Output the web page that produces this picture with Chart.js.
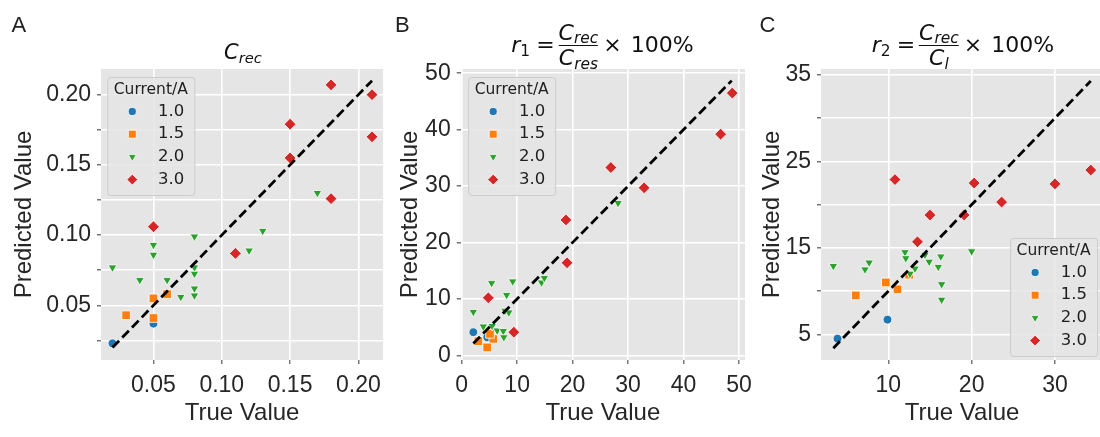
<!DOCTYPE html>
<html>
<head>
<meta charset="utf-8">
<title>Predicted vs True Value</title>
<script src="https://cdn.jsdelivr.net/npm/chart.js@4.4.1/dist/chart.umd.min.js"></script>
<style>
  html, body { margin:0; padding:0; background:#ffffff; }
  body { width:1100px; height:437px; overflow:hidden; position:relative; }
  canvas { position:absolute; top:0; }
  #cA { left:0; } #cB { left:390px; } #cC { left:750px; }
  .letter { position:absolute; top:13.5px; font-family:"Liberation Sans", Arial, sans-serif; font-size:22px; line-height:1; color:#222; }
  .ttl { position:absolute; transform:translateX(-50%); font-family:"DejaVu Sans", sans-serif; font-size:21px; line-height:1; color:#111; white-space:nowrap; }
  .big { font-size:22px; }
  .row { display:flex; align-items:center; }
  .it { font-style:italic; }
  .sb { font-size:14.7px; position:relative; top:3.5px; }
  .big .sb { font-size:15.4px; top:3.7px; }
  .frac { display:flex; flex-direction:column; align-items:center; }
  .bar { align-self:stretch; height:1.3px; background:#111; margin:1.3px 0; }
</style>
</head>
<body>
<canvas id="cA" width="390" height="437"></canvas>
<canvas id="cB" width="370" height="437"></canvas>
<canvas id="cC" width="360" height="437"></canvas>

<div class="letter" style="left:11.5px">A</div>
<div class="letter" style="left:395px">B</div>
<div class="letter" style="left:759.5px">C</div>

<div class="ttl" style="left:243px; top:42.2px"><span class="it">C</span><span class="it sb">rec</span></div>

<div class="ttl big row" style="left:602.5px; top:21.5px">
  <span><span class="it">r</span><span class="sb">1</span></span>
  <span style="margin:0 4px 0 6px">=</span>
  <span class="frac"><span><span class="it">C</span><span class="it sb">rec</span></span><span class="bar"></span><span><span class="it">C</span><span class="it sb">res</span></span></span>
  <span style="margin-left:5px">×&#8202; 100%</span>
</div>

<div class="ttl big row" style="left:963px; top:21.5px">
  <span><span class="it">r</span><span class="sb">2</span></span>
  <span style="margin:0 4px 0 6px">=</span>
  <span class="frac"><span><span class="it">C</span><span class="it sb">rec</span></span><span class="bar"></span><span><span class="it">C</span><span class="it sb">l</span></span></span>
  <span style="margin-left:5px">×&#8202; 100%</span>
</div>

<script>
// ---------------- DATA ----------------
const currents = ['1.0', '1.5', '2.0', '3.0'];
const legendTitle = 'Current/A';
const xAxisTitle = 'True Value';
const yAxisTitle = 'Predicted Value';

// Panel A: C_rec
const aTrue10 = [0.02, 0.05];
const aPred10 = [0.023, 0.037];
const aTrue15 = [0.03, 0.05, 0.05, 0.06];
const aPred15 = [0.043, 0.055, 0.041, 0.058];
const aTrue20 = [0.02, 0.04, 0.05, 0.05, 0.06, 0.07, 0.08, 0.08, 0.08, 0.08, 0.08, 0.12, 0.13, 0.17];
const aPred20 = [0.077, 0.068, 0.093, 0.086, 0.068, 0.056, 0.099, 0.077, 0.0725, 0.062, 0.057, 0.089, 0.103, 0.130];
const aTrue30 = [0.05, 0.11, 0.15, 0.15, 0.18, 0.18, 0.21, 0.21];
const aPred30 = [0.106, 0.087, 0.179, 0.155, 0.207, 0.126, 0.200, 0.170];
const aDiag = [0.02, 0.21];
const aXTicks = [0.05, 0.10, 0.15, 0.20];
const aXLabels = ['0.05', '0.10', '0.15', '0.20'];
const aYTicks = [0.025, 0.05, 0.075, 0.10, 0.125, 0.15, 0.175, 0.20];
const aYLabels = ['', '0.05', '', '0.10', '', '0.15', '', '0.20'];

// Panel B: r1
const bTrue10 = [2.1, 4.6];
const bPred10 = [4.1, 3.2];
const bTrue15 = [3.0, 5.7, 4.6, 5.1];
const bPred15 = [2.5, 2.9, 1.4, 3.8];
const bTrue20 = [2.1, 3.9, 5.4, 5.5, 6.4, 7.5, 7.6, 7.8, 8.1, 8.5, 9.2, 14.4, 14.9, 28.2];
const bPred20 = [7.7, 5.1, 12.8, 5.2, 4.4, 4.3, 3.2, 7.9, 10.7, 7.6, 13.1, 12.9, 13.7, 27.0];
const bTrue30 = [4.8, 9.4, 18.8, 19.0, 26.9, 32.9, 46.7, 48.8];
const bPred30 = [10.2, 4.1, 24.0, 16.4, 33.3, 29.7, 39.2, 46.5];
const bDiag = [2.1, 48.7];
const bXTicks = [0, 10, 20, 30, 40, 50];
const bXLabels = ['0', '10', '20', '30', '40', '50'];
const bYTicks = [0, 10, 20, 30, 40, 50];
const bYLabels = ['0', '10', '20', '30', '40', '50'];

// Panel C: r2
const cTrue10 = [3.9, 9.9];
const cPred10 = [4.5, 6.7];
const cTrue15 = [6.1, 9.7, 11.1, 12.5];
const cPred15 = [9.5, 11.0, 10.2, 11.9];
const cTrue20 = [3.4, 7.2, 7.7, 12.0, 12.1, 12.6, 13.2, 14.4, 14.9, 16.0, 16.3, 16.4, 16.4, 20.0];
const cPred20 = [12.9, 12.5, 13.3, 14.5, 13.8, 12.0, 12.6, 14.2, 13.4, 12.8, 14.0, 10.8, 9.0, 14.6];
const cTrue30 = [10.8, 13.5, 15.0, 19.1, 20.3, 23.6, 30.0, 34.3];
const cPred30 = [22.9, 15.7, 18.8, 18.8, 22.5, 20.3, 22.4, 24.0];
const cDiag = [3.4, 34.3];
const cXTicks = [10, 20, 30];
const cXLabels = ['10', '20', '30'];
const cYTicks = [5, 10, 15, 20, 25, 30, 35];
const cYLabels = ['5', '', '15', '', '25', '', '35'];

// ---------------- STYLE ----------------
const seriesColors = ['#1f77b4', '#ff7f0e', '#2ca02c', '#d62728'];
const markers = [
  { pointStyle: 'circle',   radius: 4.4, rotation: 0 },
  { pointStyle: 'rect',     radius: 6.1, rotation: 0 },
  { pointStyle: 'triangle', radius: 5.0, rotation: 180 },
  { pointStyle: 'rectRot',  radius: 5.9, rotation: 0 }
];
const tickFont = { family: '"Liberation Sans", Arial, sans-serif', size: 23 };
const axisFont = { family: '"Liberation Sans", Arial, sans-serif', size: 24 };
const textColor = '#262626';

function toPoints(xs, ys) { return xs.map((x, i) => ({ x: x, y: ys[i] })); }

function buildDatasets(groups, diag) {
  const ds = [{
    label: 'y = x',
    data: [{ x: diag[0], y: diag[0] }, { x: diag[1], y: diag[1] }],
    showLine: true,
    borderColor: '#000000',
    borderWidth: 2.8,
    borderDash: [9.5, 4.5],
    pointRadius: 0,
    pointHoverRadius: 0,
    fill: false
  }];
  for (let k = groups.length - 1; k >= 0; k--) {
    const m = markers[k];
    ds.push({
      label: currents[k],
      seriesIndex: k,
      data: toPoints(groups[k][0], groups[k][1]),
      pointStyle: m.pointStyle,
      pointRadius: m.radius,
      pointHoverRadius: m.radius,
      pointRotation: m.rotation,
      pointBackgroundColor: seriesColors[k],
      pointBorderColor: '#ffffff',
      pointBorderWidth: 0.8,
      backgroundColor: seriesColors[k],
      borderColor: '#ffffff'
    });
  }
  return ds;
}

const bgPlugin = {
  id: 'plotBg',
  beforeDraw(chart) {
    const a = chart.chartArea, ctx = chart.ctx;
    ctx.save();
    ctx.fillStyle = '#E5E5E5';
    ctx.fillRect(a.left, a.top, a.right - a.left, a.bottom - a.top);
    ctx.restore();
  }
};

function fallbackMarker(ctx, style, r, rot, x, y) {
  ctx.beginPath();
  if (style === 'circle') { ctx.arc(x, y, r, 0, Math.PI * 2); }
  else if (style === 'rect') { const s = r * Math.SQRT1_2; ctx.rect(x - s, y - s, 2 * s, 2 * s); }
  else if (style === 'rectRot') { ctx.moveTo(x - r, y); ctx.lineTo(x, y - r); ctx.lineTo(x + r, y); ctx.lineTo(x, y + r); ctx.closePath(); }
  else { let a = rot * Math.PI / 180; ctx.moveTo(x + Math.sin(a) * r, y - Math.cos(a) * r);
    a += 2 * Math.PI / 3; ctx.lineTo(x + Math.sin(a) * r, y - Math.cos(a) * r);
    a += 2 * Math.PI / 3; ctx.lineTo(x + Math.sin(a) * r, y - Math.cos(a) * r); ctx.closePath(); }
  ctx.fill(); ctx.stroke();
}

const boxLegend = {
  id: 'boxLegend',
  afterDraw(chart, args, opts) {
    const a = chart.chartArea, ctx = chart.ctx;
    const w = 87, h = 118;
    const x0 = opts.corner === 'br' ? a.right - opts.dx - w : a.left + opts.dx;
    const y0 = opts.corner === 'br' ? a.bottom - opts.dy - h : a.top + opts.dy;
    ctx.save();
    ctx.beginPath();
    if (ctx.roundRect) ctx.roundRect(x0 + 0.5, y0 + 0.5, w, h, 3); else ctx.rect(x0 + 0.5, y0 + 0.5, w, h);
    ctx.fillStyle = 'rgba(229,229,229,0.85)';
    ctx.fill();
    ctx.strokeStyle = '#CCCCCC';
    ctx.lineWidth = 1;
    ctx.stroke();
    ctx.fillStyle = '#1e1e1e';
    ctx.font = '15.5px "DejaVu Sans", sans-serif';
    ctx.textAlign = 'center';
    ctx.textBaseline = 'middle';
    ctx.fillText(legendTitle, x0 + w / 2, y0 + 12.5);
    const series = chart.data.datasets.filter(d => d.seriesIndex !== undefined)
      .sort((p, q) => p.seriesIndex - q.seriesIndex);
    series.forEach((d, i) => {
      const y = y0 + 34.5 + 22.7 * i;
      const r = d.pointRadius * 0.92;
      ctx.fillStyle = d.pointBackgroundColor;
      ctx.strokeStyle = '#ffffff';
      ctx.lineWidth = 0.8;
      if (Chart.helpers && Chart.helpers.drawPoint) {
        Chart.helpers.drawPoint(ctx, { pointStyle: d.pointStyle, radius: r, rotation: d.pointRotation, borderWidth: 0.8 }, x0 + 25, y);
      } else {
        fallbackMarker(ctx, d.pointStyle, r, d.pointRotation, x0 + 25, y);
      }
      ctx.fillStyle = '#1e1e1e';
      ctx.font = '16.5px "DejaVu Sans", sans-serif';
      ctx.textAlign = 'right';
      ctx.textBaseline = 'middle';
      ctx.fillText(d.label, x0 + 77, y);
    });
    ctx.restore();
  }
};

function makePanel(cfg) {
  return new Chart(document.getElementById(cfg.id), {
    type: 'scatter',
    data: { datasets: buildDatasets(cfg.groups, cfg.diag) },
    options: {
      responsive: false,
      animation: false,
      devicePixelRatio: 1,
      events: [],
      layout: { padding: { left: 0, top: 69, right: cfg.padRight, bottom: 0 } },
      plugins: {
        legend: { display: false },
        tooltip: { enabled: false },
        boxLegend: cfg.legend
      },
      scales: {
        x: {
          type: 'linear', bounds: 'data', min: cfg.xMin, max: cfg.xMax,
          afterBuildTicks: ax => { ax.ticks = cfg.xTicks.map(v => ({ value: v })); },
          afterFit: s => { s.height = 77; },
          border: { display: false },
          grid: { color: '#ffffff', lineWidth: 1.6, drawTicks: true, tickLength: 4, tickColor: '#555555', tickWidth: 1.2 },
          ticks: { font: tickFont, color: textColor, padding: 8, autoSkip: false, maxRotation: 0,
                   callback: (v, i) => cfg.xLabels[i] },
          title: { display: true, text: xAxisTitle, font: axisFont, color: textColor, padding: { top: 0, bottom: 9.6 } }
        },
        y: {
          type: 'linear', bounds: 'data', min: cfg.yMin, max: cfg.yMax,
          afterBuildTicks: ax => { ax.ticks = cfg.yTicks.map(v => ({ value: v })); },
          afterFit: s => { s.width = cfg.yWidth; },
          border: { display: false },
          grid: { color: '#ffffff', lineWidth: 1.6, drawTicks: true, tickLength: 4, tickColor: '#555555', tickWidth: 1.2 },
          ticks: { font: tickFont, color: textColor, padding: 6, autoSkip: false,
                   callback: (v, i) => cfg.yLabels[i] },
          title: { display: true, text: yAxisTitle, font: axisFont, color: textColor, padding: { top: cfg.yTitlePad, bottom: 0 } }
        }
      }
    },
    plugins: [bgPlugin, boxLegend]
  });
}

makePanel({
  id: 'cA',
  groups: [[aTrue10, aPred10], [aTrue15, aPred15], [aTrue20, aPred20], [aTrue30, aPred30]],
  diag: aDiag,
  xMin: 0.0116, xMax: 0.2181, yMin: 0.0111, yMax: 0.2183,
  xTicks: aXTicks, xLabels: aXLabels, yTicks: aYTicks, yLabels: aYLabels,
  yWidth: 101, padRight: 5, yTitlePad: 9.6,
  legend: { corner: 'tl', dx: 6.3, dy: 8 }
});

makePanel({
  id: 'cB',
  groups: [[bTrue10, bPred10], [bTrue15, bPred15], [bTrue20, bPred20], [bTrue30, bPred30]],
  diag: bDiag,
  xMin: -0.18, xMax: 51.1, yMin: -0.83, yMax: 50.76,
  xTicks: bXTicks, xLabels: bXLabels, yTicks: bYTicks, yLabels: bYLabels,
  yWidth: 70.7, padRight: 13, yTitlePad: 5.6,
  legend: { corner: 'tl', dx: 7.5, dy: 8 }
});

makePanel({
  id: 'cC',
  groups: [[cTrue10, cPred10], [cTrue15, cPred15], [cTrue20, cPred20], [cTrue30, cPred30]],
  diag: cDiag,
  xMin: 1.92, xMax: 35.78, yMin: 2.03, yMax: 35.69,
  xTicks: cXTicks, xLabels: cXLabels, yTicks: cYTicks, yLabels: cYLabels,
  yWidth: 71, padRight: 4, yTitlePad: 8.1,
  legend: { corner: 'br', dx: 6, dy: 4 }
});
</script>
</body>
</html>
